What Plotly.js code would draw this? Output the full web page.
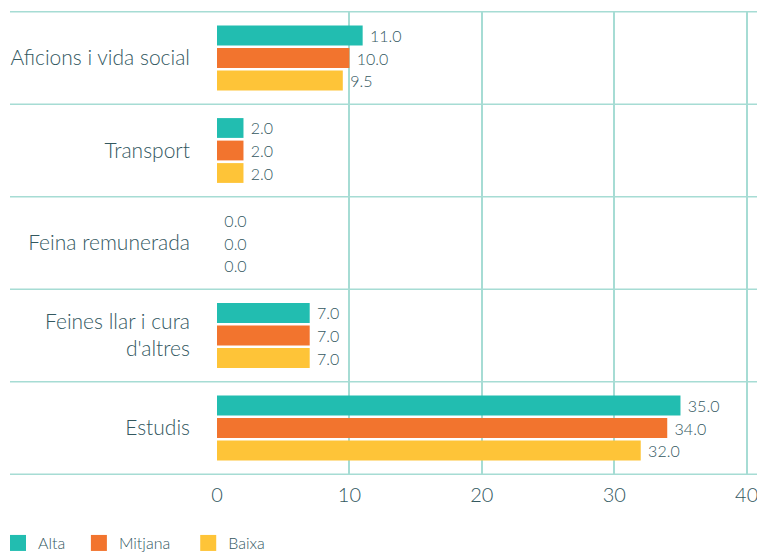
<!DOCTYPE html>
<html><head><meta charset="utf-8">
<script src="https://cdn.plot.ly/plotly-3.0.1.min.js"></script>
<style>html,body{margin:0;padding:0;background:#fff}</style>
</head><body>
<div id="chart" style="width:757px;height:553px"></div>
<script>
const categories = ["Aficions i vida social", "Transport", "Feina remunerada", "Feines llar i cura<br>d'altres", "Estudis"];
const seriesNames = ["Alta", "Mitjana", "Baixa"];
const alta = [11.0, 2.0, 0.0, 7.0, 35.0];
const mitjana = [10.0, 2.0, 0.0, 7.0, 34.0];
const baixa = [9.5, 2.0, 0.0, 7.0, 32.0];
const colors = ["#22bdb0", "#f2742e", "#fec438"];
const xTicks = [0, 10, 20, 30, 40];

const textColor = "#33585f";
const gridColor = "#a6dcd4";
const font = "Lato, 'Open Sans', sans-serif";
const FW = 300;
const NB = "\u00a0";
const legendPad = [2, 3, 0];

const values = [alta, mitjana, baixa];
const traces = values.map((v, i) => ({
  type: "bar",
  orientation: "h",
  name: seriesNames[i],
  legendgroup: seriesNames[i],
  showlegend: false,
  y: categories,
  x: v,
  marker: {color: colors[i]},
  text: v.map(d => NB + d.toFixed(1)),
  textposition: "outside",
  textfont: {size: 16, color: textColor, family: font, weight: FW},
  cliponaxis: false,
  hoverinfo: "none"
}));
// legend proxies (square swatches)
seriesNames.forEach((n, i) => traces.push({
  type: "scatter", mode: "markers", name: n + NB.repeat(legendPad[i]), legendgroup: n,
  x: [null], y: [null],
  marker: {symbol: "square", size: 16, color: colors[i]},
  hoverinfo: "none"
}));

const L = 217, R = 7, W = 757 - L - R;
const shapes = [];
for (let k = 0; k <= categories.length; k++) {
  shapes.push({
    type: "line", xref: "paper", yref: "y",
    x0: (10 - L) / W, x1: (757 - L) / W,
    y0: k - 0.5, y1: k - 0.5,
    line: {color: gridColor, width: 1.5},
    layer: "below"
  });
}

const layout = {
  width: 757, height: 553,
  margin: {l: L, r: R, t: 11, b: 78, autoexpand: false},
  paper_bgcolor: "#fff", plot_bgcolor: "#fff",
  font: {family: font, color: textColor, weight: FW},
  barmode: "group",
  bargap: 0.27,
  bargroupgap: 0.12,
  showlegend: true,
  legend: {
    orientation: "h", x: (-2 - L) / W, xanchor: "left",
    y: -0.11, yanchor: "top",
    font: {size: 16, color: textColor, family: font, weight: FW},
    traceorder: "normal", itemsizing: "trace"
  },
  xaxis: {
    range: [0, 40.25], tickvals: xTicks, ticktext: xTicks.map(String),
    showgrid: true, gridcolor: gridColor, gridwidth: 2,
    zeroline: false, showline: false, automargin: false,
    ticklabeloverflow: "allow",
    tickfont: {size: 20, color: textColor, family: font, weight: FW},
    ticks: "", ticklabelstandoff: 6
  },
  yaxis: {
    type: "category", autorange: "reversed", automargin: false,
    showgrid: false, zeroline: false, showline: false,
    tickfont: {size: 21, color: textColor, family: font, weight: FW},
    ticks: "", ticklabelstandoff: 26
  },
  shapes: shapes
};

Plotly.newPlot("chart", traces, layout, {displayModeBar: false, staticPlot: true});
</script>
</body></html>
